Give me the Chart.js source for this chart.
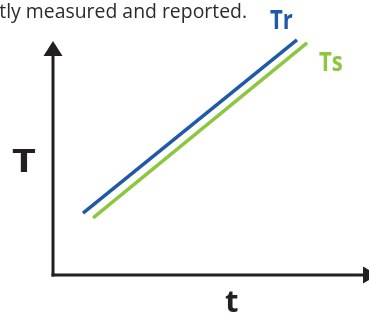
<!DOCTYPE html>
<html>
<head>
<meta charset="utf-8">
<script src="https://cdn.jsdelivr.net/npm/chart.js@4"></script>
<style>
    html, body { margin: 0; padding: 0; background: #fff; overflow: hidden; }
    #wrap { width: 369px; height: 314px; position: relative; }
</style>
</head>
<body>
<div id="wrap"><canvas id="tempChart" width="369" height="314"></canvas></div>
<script>
// Series (arbitrary units)
const seriesNames = ['Tr', 'Ts'];
const trTime = [0.95, 7.72];
const trValues = [2.43, 9.22];
const tsTime = [1.27, 8.04];
const tsValues = [2.24, 9.10];
const axisLabels = { x: 't', y: 'T' };
const caption = 'exactly measured and reported.';

const colors = { tr: '#1f5aa9', ts: '#8dc63f', axis: '#231f20' };

function toPoints(xs, ys) {
    return xs.map((x, i) => ({ x: x, y: ys[i] }));
}

// draw text squeezed/stretched horizontally (the original uses a narrower face)
function drawText(ctx, text, x, y, sx) {
    ctx.save();
    ctx.translate(x, y);
    ctx.scale(sx, 1);
    ctx.fillText(text, 0, 0);
    ctx.restore();
}

// Axes with arrow heads, labels and caption
const decorations = {
    id: 'decorations',
    afterDraw(chart) {
        const ctx = chart.ctx;
        const xs = chart.scales.x;
        const ys = chart.scales.y;
        const ox = xs.getPixelForValue(0);
        const oy = ys.getPixelForValue(0);

        ctx.save();
        ctx.strokeStyle = colors.axis;
        ctx.fillStyle = colors.axis;
        ctx.lineWidth = 3;

        // vertical axis
        ctx.beginPath();
        ctx.moveTo(ox, oy + 1.5);
        ctx.lineTo(ox, 55);
        ctx.stroke();
        ctx.beginPath();
        ctx.moveTo(ox, 41);
        ctx.lineTo(ox - 9.5, 56);
        ctx.lineTo(ox + 9.5, 56);
        ctx.closePath();
        ctx.fill();

        // horizontal axis
        ctx.beginPath();
        ctx.moveTo(ox - 1.5, oy);
        ctx.lineTo(364, oy);
        ctx.stroke();
        ctx.beginPath();
        ctx.moveTo(378, oy);
        ctx.lineTo(363, oy - 8.5);
        ctx.lineTo(363, oy + 8.5);
        ctx.closePath();
        ctx.fill();

        // axis labels
        ctx.textBaseline = 'alphabetic';
        ctx.textAlign = 'left';
        ctx.font = 'bold 33px "Open Sans"';
        drawText(ctx, axisLabels.y, 12, 172, 1.25);
        ctx.font = 'bold 31px "Open Sans"';
        drawText(ctx, axisLabels.x, 225, 312, 1);

        // series labels next to line ends
        const trEnd = chart.getDatasetMeta(0).data[1];
        const tsEnd = chart.getDatasetMeta(1).data[1];
        ctx.font = 'bold 26px "Open Sans"';
        ctx.fillStyle = colors.tr;
        drawText(ctx, seriesNames[0], trEnd.x - 27, trEnd.y - 11, 0.85);
        ctx.fillStyle = colors.ts;
        drawText(ctx, seriesNames[1], tsEnd.x + 12, tsEnd.y + 28, 0.85);

        // cut-off caption at the top
        ctx.fillStyle = '#2b2b2b';
        ctx.font = '20px "Open Sans"';
        ctx.textAlign = 'right';
        drawText(ctx, caption, 247, 18, 0.97);
        ctx.restore();
    }
};

new Chart(document.getElementById('tempChart'), {
    type: 'scatter',
    data: {
        datasets: [{
            label: seriesNames[0],
            data: toPoints(trTime, trValues),
            showLine: true,
            borderColor: colors.tr,
            borderWidth: 3.5,
            pointRadius: 0
        }, {
            label: seriesNames[1],
            data: toPoints(tsTime, tsValues),
            showLine: true,
            borderColor: colors.ts,
            borderWidth: 3.5,
            pointRadius: 0
        }]
    },
    options: {
        responsive: false,
        animation: false,
        layout: {
            padding: { left: 53, top: 20, right: 0, bottom: 39 }
        },
        scales: {
            x: { type: 'linear', min: 0, max: 10, display: false },
            y: { type: 'linear', min: 0, max: 10, display: false }
        },
        plugins: {
            legend: { display: false },
            tooltip: { enabled: false }
        }
    },
    plugins: [decorations]
});
</script>
</body>
</html>
